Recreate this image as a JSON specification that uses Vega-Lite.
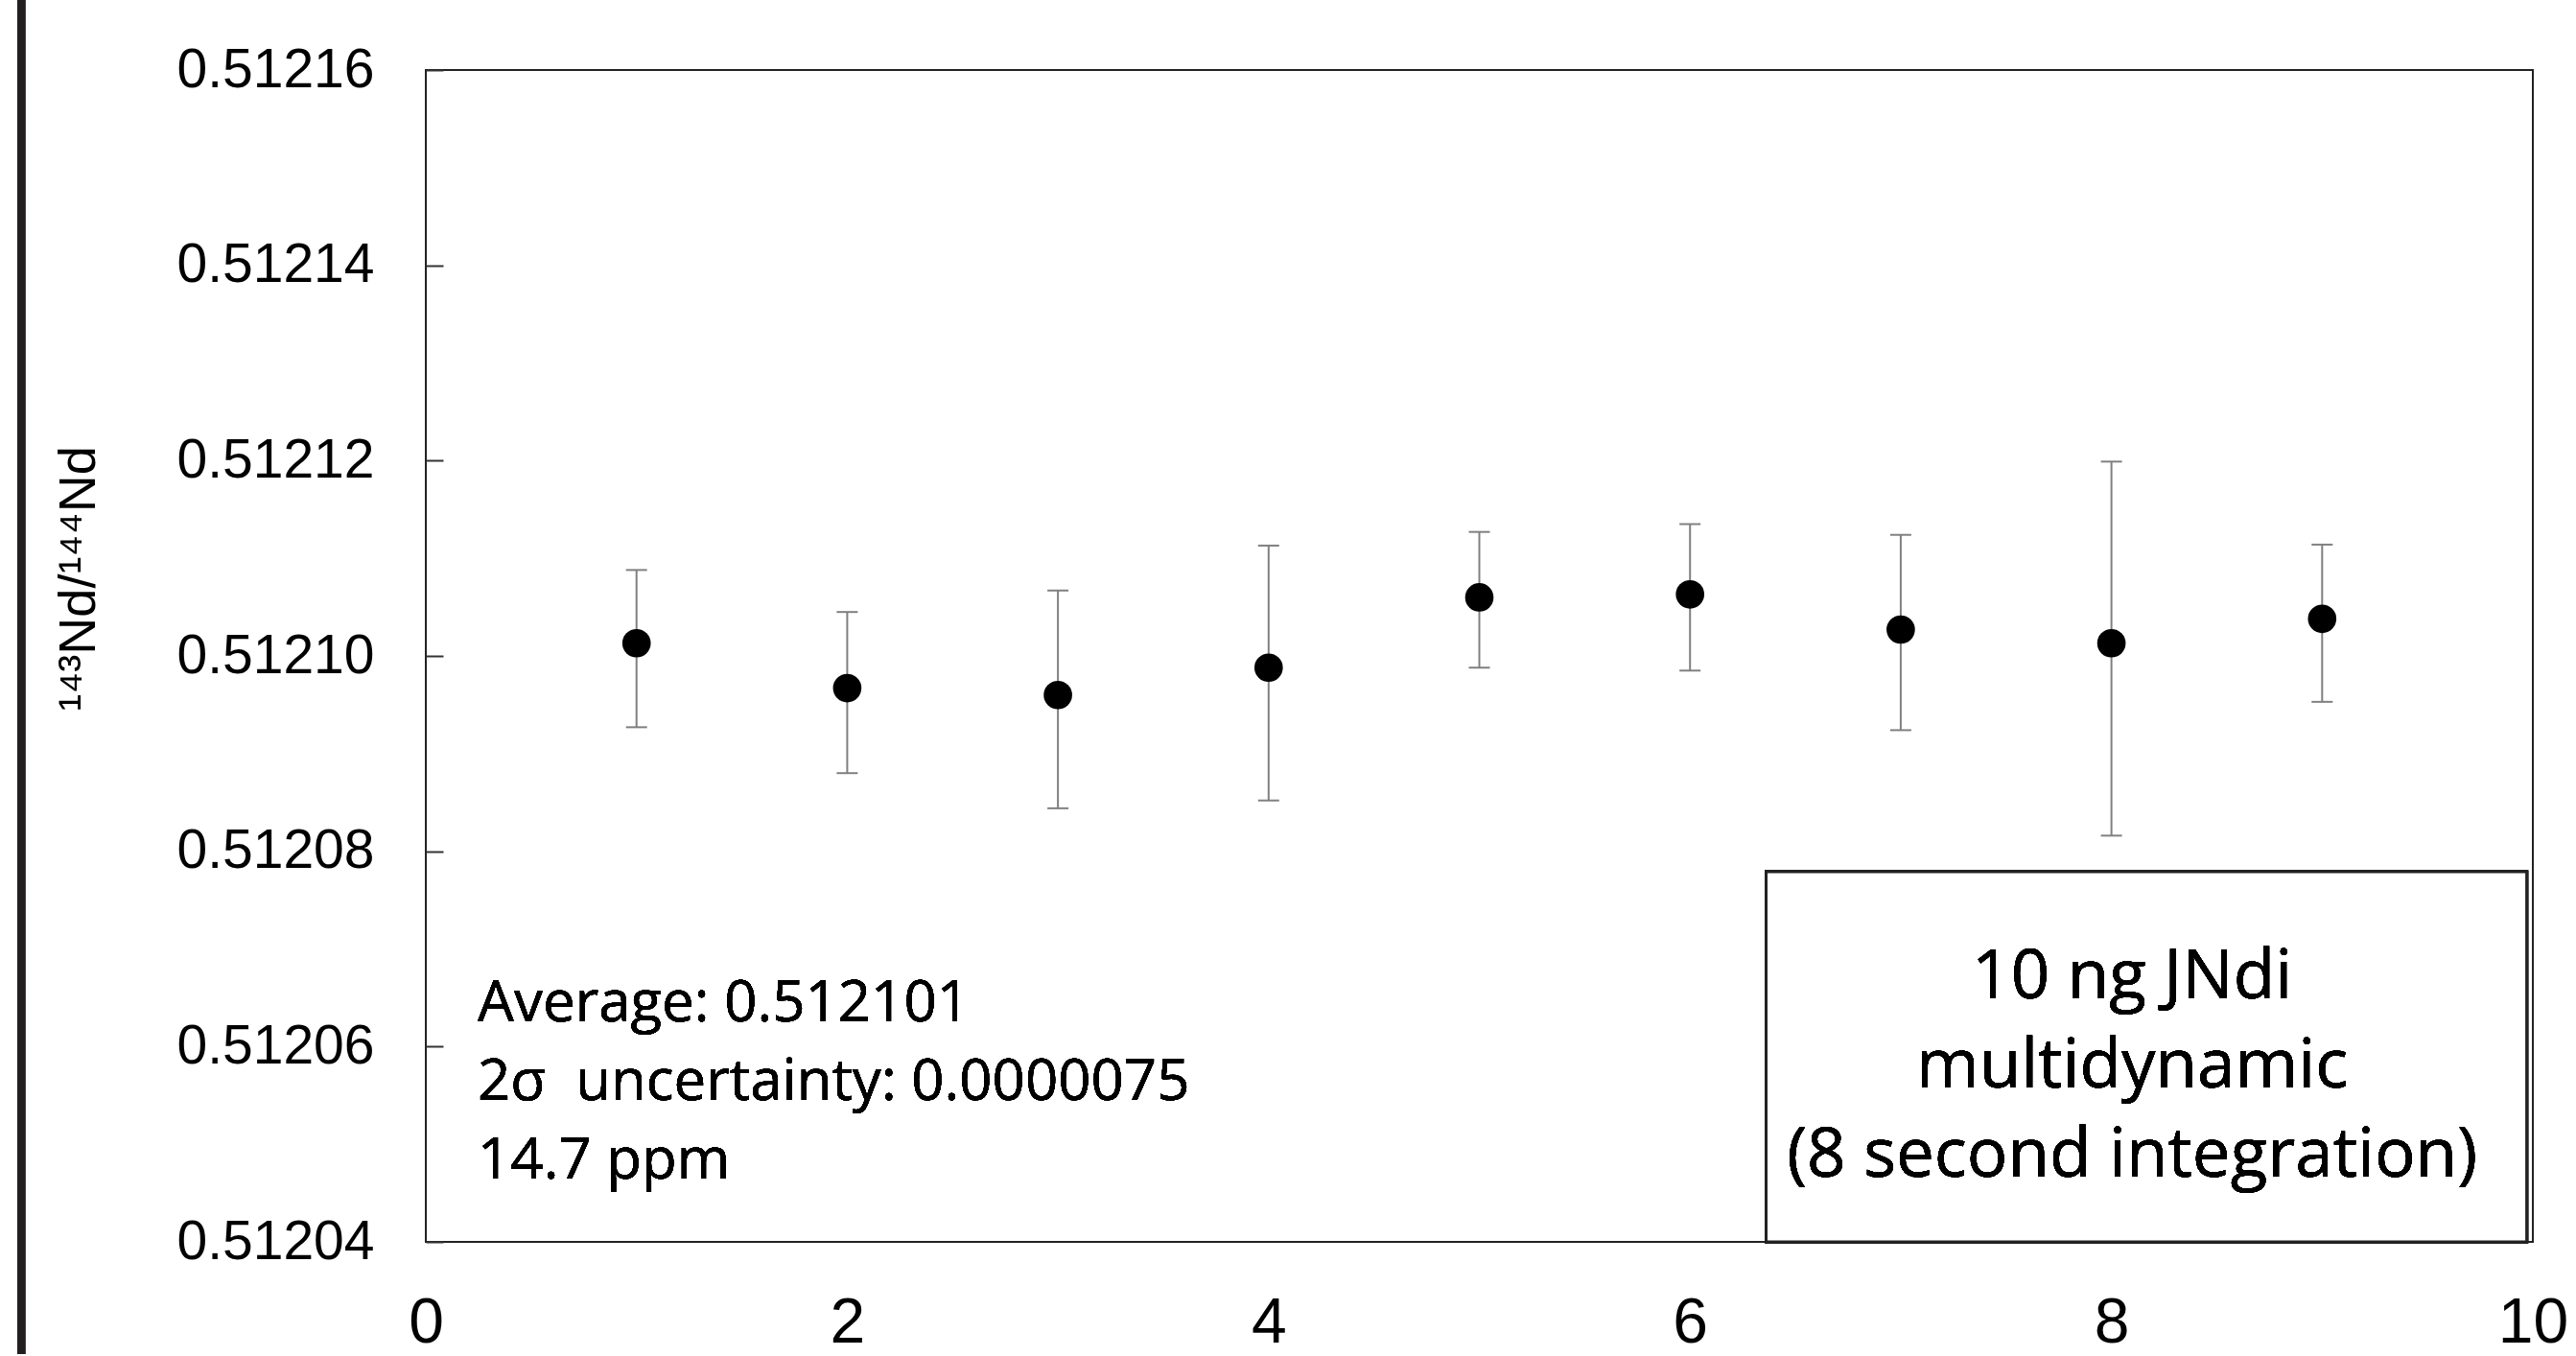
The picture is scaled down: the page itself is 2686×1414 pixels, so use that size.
{
  "$schema": "https://vega.github.io/schema/vega-lite/v6.json",
  "width": 2197,
  "height": 1222,
  "autosize": {"type": "none"},
  "padding": {"left": 444, "top": 73, "right": 45, "bottom": 119},
  "background": "white",
  "config": {
    "font": "Liberation Sans",
    "view": {"stroke": "#222222", "strokeWidth": 2}
  },
  "data": {
    "values": [
      {"run": 1, "ratio": 0.5121013, "lo": 0.5120927, "hi": 0.5121088},
      {"run": 2, "ratio": 0.5120967, "lo": 0.5120880, "hi": 0.5121045},
      {"run": 3, "ratio": 0.5120960, "lo": 0.5120844, "hi": 0.5121067},
      {"run": 4, "ratio": 0.5120988, "lo": 0.5120852, "hi": 0.5121113},
      {"run": 5, "ratio": 0.5121060, "lo": 0.5120988, "hi": 0.5121127},
      {"run": 6, "ratio": 0.5121063, "lo": 0.5120985, "hi": 0.5121135},
      {"run": 7, "ratio": 0.5121027, "lo": 0.5120924, "hi": 0.5121124},
      {"run": 8, "ratio": 0.5121013, "lo": 0.5120816, "hi": 0.5121199},
      {"run": 9, "ratio": 0.5121038, "lo": 0.5120953, "hi": 0.5121114}
    ]
  },
  "encoding": {
    "x": {
      "field": "run", "type": "quantitative",
      "scale": {"domain": [0, 10], "nice": false, "zero": false},
      "axis": {
        "values": [0, 2, 4, 6, 8, 10],
        "ticks": false,
        "grid": false,
        "domain": false,
        "labelFontSize": 66,
        "labelColor": "black",
        "labelPadding": 52,
        "labelFlush": false,
        "labelLimit": 0,
        "title": null
      }
    },
    "y": {
      "field": "ratio", "type": "quantitative",
      "scale": {"domain": [0.51204, 0.51216], "nice": false, "zero": false},
      "axis": {
        "values": [0.51204, 0.51206, 0.51208, 0.5121, 0.51212, 0.51214, 0.51216],
        "format": ".5f",
        "grid": false,
        "domain": false,
        "tickSize": -18,
        "tickColor": "#333333",
        "tickWidth": 2,
        "labelFontSize": 57,
        "labelColor": "black",
        "labelPadding": 72,
        "labelFlush": false,
        "labelLimit": 0,
        "title": "¹⁴³Nd/¹⁴⁴Nd",
        "titleFont": "Liberation Sans",
        "titleFontSize": 54,
        "titleFontWeight": "normal",
        "titleColor": "black",
        "titleX": -362,
        "titleY": 530,
        "titleBaseline": "middle",
        "titleAngle": -90
      }
    }
  },
  "layer": [
    {
      "mark": {"type": "rule", "color": "#231f20", "strokeWidth": 8, "clip": false},
      "encoding": {
        "x": {"datum": -1.92},
        "y": {"datum": 0.5121672},
        "y2": {"datum": 0.5120285}
      }
    },
    {
      "mark": {"type": "rule", "color": "#808080", "strokeWidth": 2},
      "encoding": {
        "y": {"field": "lo", "type": "quantitative"},
        "y2": {"field": "hi"}
      }
    },
    {
      "mark": {"type": "tick", "orient": "horizontal", "color": "#808080", "size": 22, "thickness": 2, "opacity": 1},
      "encoding": {"y": {"field": "lo", "type": "quantitative"}}
    },
    {
      "mark": {"type": "tick", "orient": "horizontal", "color": "#808080", "size": 22, "thickness": 2, "opacity": 1},
      "encoding": {"y": {"field": "hi", "type": "quantitative"}}
    },
    {
      "mark": {"type": "point", "shape": "circle", "filled": true, "color": "black", "size": 880, "opacity": 1}
    },
    {
      "mark": {"type": "rect", "fill": "white", "stroke": "#222222", "strokeWidth": 3},
      "encoding": {
        "x": {"datum": 6.361},
        "x2": {"datum": 9.971},
        "y": {"datum": 0.5120779},
        "y2": {"datum": 0.51204}
      }
    },
    {
      "mark": {
        "type": "text", "font": "Open Sans", "fontSize": 71, "align": "center", "baseline": "middle",
        "lineHeight": 93, "color": "black",
        "text": ["10 ng JNdi", "multidynamic", "(8 second integration)"]
      },
      "encoding": {
        "x": {"datum": 8.098},
        "y": {"datum": 0.512067}
      }
    },
    {
      "mark": {
        "type": "text", "font": "Open Sans", "fontSize": 60, "align": "left", "baseline": "middle",
        "lineHeight": 82, "color": "black",
        "text": ["Average: 0.512101", "2σ\u00a0 uncertainty: 0.0000075", "14.7 ppm"]
      },
      "encoding": {
        "x": {"datum": 0.246},
        "y": {"datum": 0.5120644}
      }
    }
  ]
}
